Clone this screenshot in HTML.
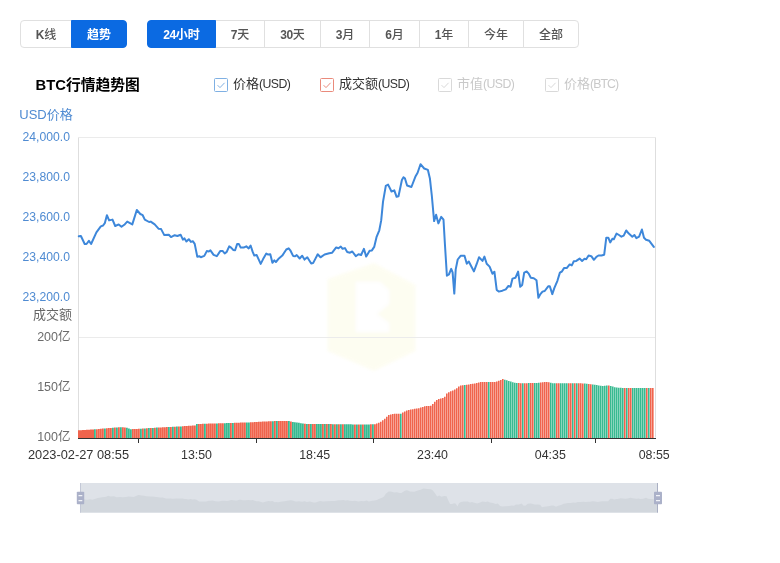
<!DOCTYPE html>
<html lang="zh-CN"><head><meta charset="utf-8"><title>BTC行情趋势图</title>
<style>
html,body{margin:0;padding:0;background:#fff}
body{width:780px;height:563px;position:relative;overflow:hidden;font-family:"Liberation Sans", "Noto Sans CJK SC", sans-serif;}
.tab{position:absolute;top:20px;height:28px;line-height:28.6px;text-align:center;font-size:12px;color:#555;font-weight:500;box-sizing:border-box;border:1px solid #e0e0e0;background:#fff;white-space:nowrap}
.tab b{font-weight:bold;letter-spacing:-0.4px}
.tab.first{border-radius:4px 0 0 4px}
.tab.last{border-radius:0 4px 4px 0}
.tab.on{background:#0b6ae2;color:#fff;border-color:#0b6ae2;font-weight:bold;z-index:2}
.title{position:absolute;left:35.5px;top:75.3px;font-size:14.8px;font-weight:bold;color:#000;line-height:20px;white-space:nowrap}
.cb{position:absolute;margin-left:-0.5px;top:77.5px;width:12px;height:12px;border:1px solid #888;border-radius:1.5px;background:#fff;line-height:0}
.lt{position:absolute;top:74.8px;font-size:13px;line-height:18px;white-space:nowrap}
.lt i{font-style:normal;letter-spacing:-0.6px;font-size:12.3px}
svg.chart{position:absolute;left:0;top:0}
.ax{font-family:"Liberation Sans", "Noto Sans CJK SC", sans-serif;font-size:12.5px}
</style></head><body>
<span class="tab first" style="left:20px;width:52px"><b>K</b>线</span><span class="tab on last" style="left:71px;width:56px">趋势</span>
<span class="tab on first" style="left:147px;width:69px"><b>24</b>小时</span><span class="tab" style="left:215px;width:50px"><b>7</b>天</span><span class="tab" style="left:264px;width:57px"><b>30</b>天</span><span class="tab" style="left:320px;width:50px"><b>3</b>月</span><span class="tab" style="left:369px;width:51px"><b>6</b>月</span><span class="tab" style="left:419px;width:50px"><b>1</b>年</span><span class="tab" style="left:468px;width:56px">今年</span><span class="tab last" style="left:523px;width:56px">全部</span>
<div class="title">BTC行情趋势图</div>
<span class="cb" style="left:214px;border-color:#7fb0e3"><svg width="12" height="12" viewBox="0 0 12 12"><path d="M2.6 6.2l2.4 2.4 4.6-4.8" fill="none" stroke="#7fb0e3" stroke-width="1"/></svg></span><span class="lt" style="left:233px;color:#333">价格<i>(USD)</i></span><span class="cb" style="left:320px;border-color:#ea8a7b"><svg width="12" height="12" viewBox="0 0 12 12"><path d="M2.6 6.2l2.4 2.4 4.6-4.8" fill="none" stroke="#ea8a7b" stroke-width="1"/></svg></span><span class="lt" style="left:339px;color:#333">成交额<i>(USD)</i></span><span class="cb" style="left:438px;border-color:#d9d9d9"><svg width="12" height="12" viewBox="0 0 12 12"><path d="M2.6 6.2l2.4 2.4 4.6-4.8" fill="none" stroke="#d9d9d9" stroke-width="1"/></svg></span><span class="lt" style="left:457px;color:#c9c9c9">市值<i>(USD)</i></span><span class="cb" style="left:545px;border-color:#d9d9d9"><svg width="12" height="12" viewBox="0 0 12 12"><path d="M2.6 6.2l2.4 2.4 4.6-4.8" fill="none" stroke="#d9d9d9" stroke-width="1"/></svg></span><span class="lt" style="left:564px;color:#c9c9c9">价格<i style="letter-spacing:-0.9px">(BTC)</i></span>
<svg class="chart" width="780" height="563" viewBox="0 0 780 563">
<defs><filter id="bl" x="-20%" y="-20%" width="140%" height="140%"><feGaussianBlur stdDeviation="1.6"/></filter></defs><g opacity="0.1" filter="url(#bl)"><path d="M374 263l41.500 22v66l-41.500 20-46.500-20v-72z" fill="#f1ee80"/><path d="M356 282h24l9 8v14l-12 10 12 9v9h-33z" fill="#fff"/></g>
<path d="M78.5 137.5h577M78.5 337.5h577" stroke="#ebebeb" fill="none"/>
<path d="M78.5 137.5v300M655.5 137.5v300" stroke="#dedede" fill="none"/>
<text x="19.3" y="118.8" fill="#4f8bd2" class="ax" style="font-size:13px">USD价格</text>
<text x="72" y="318.6" text-anchor="end" fill="#666" class="ax" style="font-size:13px">成交额</text>
<text x="70" y="140.5" text-anchor="end" fill="#4f8bd2" class="ax" style="font-size:12.2px">24,000.0</text><text x="70" y="180.5" text-anchor="end" fill="#4f8bd2" class="ax" style="font-size:12.2px">23,800.0</text><text x="70" y="220.5" text-anchor="end" fill="#4f8bd2" class="ax" style="font-size:12.2px">23,600.0</text><text x="70" y="260.5" text-anchor="end" fill="#4f8bd2" class="ax" style="font-size:12.2px">23,400.0</text><text x="70" y="300.5" text-anchor="end" fill="#4f8bd2" class="ax" style="font-size:12.2px">23,200.0</text><text x="70.5" y="341.3" text-anchor="end" fill="#6b6b6b" class="ax">200亿</text><text x="70.5" y="391.3" text-anchor="end" fill="#6b6b6b" class="ax">150亿</text><text x="70.5" y="441.3" text-anchor="end" fill="#6b6b6b" class="ax">100亿</text><text x="78.5" y="458.5" text-anchor="middle" fill="#333" class="ax" style="font-size:12.8px">2023-02-27 08:55</text><text x="196.5" y="458.5" text-anchor="middle" fill="#333" class="ax" style="font-size:12.4px">13:50</text><text x="314.7" y="458.5" text-anchor="middle" fill="#333" class="ax" style="font-size:12.4px">18:45</text><text x="432.5" y="458.5" text-anchor="middle" fill="#333" class="ax" style="font-size:12.4px">23:40</text><text x="550.3" y="458.5" text-anchor="middle" fill="#333" class="ax" style="font-size:12.4px">04:35</text><text x="654.2" y="458.5" text-anchor="middle" fill="#333" class="ax" style="font-size:12.4px">08:55</text>
<path d="M78.00 438V430.3h2.0V438zM80.00 438V430.2h2.0V438zM82.00 438V430.0h2.0V438zM84.00 438V429.9h2.0V438zM86.00 438V429.8h2.0V438zM88.00 438V429.7h2.0V438zM90.00 438V429.6h2.0V438zM92.00 438V429.4h2.0V438zM96.00 438V429.2h1.8V438zM98.00 438V429.0h1.8V438zM100.00 438V428.8h1.8V438zM102.00 438V428.6h1.8V438zM106.00 438V428.3h1.8V438zM108.00 438V428.1h1.8V438zM110.00 438V428.0h1.8V438zM114.00 438V427.6h1.8V438zM118.00 438V427.3h1.8V438zM122.00 438V427.3h1.8V438zM124.00 438V427.4h1.8V438zM132.00 438V429.1h1.8V438zM134.00 438V429.0h1.8V438zM136.00 438V428.9h1.8V438zM138.00 438V428.8h1.8V438zM142.00 438V428.5h1.8V438zM146.00 438V428.3h1.8V438zM150.00 438V428.0h1.8V438zM154.00 438V427.8h1.8V438zM158.00 438V427.5h1.8V438zM160.00 438V427.4h1.8V438zM162.00 438V427.3h1.8V438zM164.00 438V427.2h1.8V438zM166.00 438V427.1h1.8V438zM170.00 438V426.9h1.8V438zM174.00 438V426.7h1.8V438zM178.00 438V426.5h1.8V438zM182.00 438V426.2h1.8V438zM184.00 438V426.1h1.8V438zM186.00 438V426.0h1.8V438zM188.00 438V425.8h1.8V438zM190.00 438V425.7h1.8V438zM192.00 438V425.5h1.8V438zM194.00 438V425.4h1.8V438zM198.00 438V423.9h1.8V438zM200.00 438V423.9h1.8V438zM202.00 438V423.8h1.8V438zM206.00 438V423.7h1.8V438zM208.00 438V423.6h1.8V438zM210.00 438V423.6h1.8V438zM212.00 438V423.5h1.8V438zM214.00 438V423.5h1.8V438zM218.00 438V423.3h1.8V438zM220.00 438V423.3h1.8V438zM222.00 438V423.2h1.8V438zM230.00 438V422.9h1.8V438zM234.00 438V422.8h1.8V438zM236.00 438V422.8h1.8V438zM238.00 438V422.7h1.8V438zM240.00 438V422.6h1.8V438zM242.00 438V422.6h1.8V438zM244.00 438V422.5h1.8V438zM250.00 438V422.3h1.8V438zM252.00 438V422.2h1.8V438zM254.00 438V422.1h1.8V438zM256.00 438V421.9h1.8V438zM258.00 438V421.8h1.8V438zM260.00 438V421.7h1.8V438zM262.00 438V421.6h1.8V438zM264.00 438V421.5h1.8V438zM266.00 438V421.4h1.8V438zM268.00 438V421.3h1.8V438zM270.00 438V421.2h1.8V438zM274.00 438V421.1h1.8V438zM278.00 438V421.1h1.8V438zM280.00 438V421.1h1.8V438zM282.00 438V421.1h1.8V438zM284.00 438V421.0h1.8V438zM286.00 438V421.0h1.8V438zM290.00 438V421.5h1.8V438zM304.00 438V423.8h1.8V438zM308.00 438V424.0h1.8V438zM312.00 438V424.0h1.8V438zM314.00 438V424.1h1.8V438zM322.00 438V424.1h1.8V438zM326.00 438V424.1h1.8V438zM330.00 438V424.1h1.8V438zM334.00 438V424.2h1.8V438zM338.00 438V424.2h1.8V438zM342.00 438V424.2h1.8V438zM354.00 438V424.4h1.8V438zM358.00 438V424.4h1.8V438zM362.00 438V424.5h1.8V438zM370.00 438V424.3h1.8V438zM374.00 438V424.2h1.8V438zM376.00 438V423.4h1.6V438zM378.00 438V422.7h1.6V438zM380.00 438V421.8h1.6V438zM382.00 438V420.3h1.6V438zM384.00 438V418.7h1.6V438zM386.00 438V416.7h1.6V438zM388.00 438V415.1h1.6V438zM390.00 438V414.6h1.6V438zM392.00 438V414.1h1.6V438zM394.00 438V413.8h1.6V438zM396.00 438V413.8h1.6V438zM398.00 438V413.8h1.6V438zM402.00 438V412.6h1.6V438zM404.00 438V411.4h1.6V438zM406.00 438V410.5h1.6V438zM408.00 438V410.1h1.6V438zM410.00 438V409.6h1.6V438zM412.00 438V409.2h1.6V438zM414.00 438V408.8h1.6V438zM416.00 438V408.5h1.6V438zM418.00 438V408.2h1.6V438zM420.00 438V407.5h1.6V438zM422.00 438V406.9h1.6V438zM424.00 438V406.2h1.6V438zM426.00 438V406.0h1.6V438zM428.00 438V405.9h1.6V438zM430.00 438V405.7h1.6V438zM432.00 438V404.1h1.6V438zM434.00 438V401.7h1.6V438zM436.00 438V400.1h1.6V438zM438.00 438V399.1h1.6V438zM440.00 438V398.5h1.6V438zM442.00 438V398.1h1.6V438zM444.00 438V396.7h1.6V438zM446.00 438V393.4h1.6V438zM448.00 438V392.2h1.6V438zM450.00 438V391.3h1.6V438zM452.00 438V390.4h1.6V438zM454.00 438V389.6h1.6V438zM456.00 438V388.2h1.6V438zM458.00 438V386.4h1.6V438zM460.00 438V385.6h1.6V438zM462.00 438V385.3h1.6V438zM466.00 438V384.8h1.6V438zM468.00 438V384.5h1.6V438zM470.00 438V384.1h1.6V438zM472.00 438V383.8h1.6V438zM474.00 438V383.4h1.6V438zM476.00 438V383.0h1.6V438zM478.00 438V382.5h1.6V438zM480.00 438V382.1h1.6V438zM482.00 438V382.0h1.6V438zM484.00 438V382.0h1.6V438zM486.00 438V381.9h1.6V438zM490.00 438V381.9h1.6V438zM492.00 438V381.9h1.6V438zM494.00 438V381.9h1.6V438zM496.00 438V381.6h1.6V438zM498.00 438V380.7h1.6V438zM500.00 438V379.9h1.6V438zM502.00 438V379.0h1.6V438zM518.00 438V383.1h1.6V438zM520.00 438V383.3h1.6V438zM524.00 438V383.2h1.6V438zM526.00 438V383.2h1.6V438zM530.00 438V383.1h1.6V438zM532.00 438V383.1h1.6V438zM540.00 438V382.5h1.6V438zM542.00 438V382.3h1.6V438zM544.00 438V382.1h1.6V438zM546.00 438V381.9h1.6V438zM548.00 438V382.2h1.6V438zM556.00 438V383.3h1.6V438zM558.00 438V383.3h1.6V438zM568.00 438V383.3h1.6V438zM570.00 438V383.3h1.6V438zM574.00 438V383.3h1.6V438zM578.00 438V383.3h1.6V438zM580.00 438V383.3h1.6V438zM582.00 438V383.4h1.6V438zM588.00 438V384.0h1.6V438zM590.00 438V384.2h1.6V438zM608.00 438V385.4h1.6V438zM624.00 438V388.0h1.6V438zM628.00 438V388.0h1.6V438zM630.00 438V388.0h1.6V438zM646.00 438V388.0h1.6V438zM650.00 438V388.0h1.6V438zM652.00 438V388.0h1.6V438z" fill="#f0644d"/>
<path d="M94.00 438V429.3h1.8V438zM104.00 438V428.5h1.8V438zM112.00 438V427.8h1.8V438zM116.00 438V427.5h1.8V438zM120.00 438V427.2h1.8V438zM126.00 438V427.7h1.8V438zM128.00 438V428.6h1.8V438zM130.00 438V429.2h1.8V438zM140.00 438V428.7h1.8V438zM144.00 438V428.4h1.8V438zM148.00 438V428.1h1.8V438zM152.00 438V427.9h1.8V438zM156.00 438V427.6h1.8V438zM168.00 438V427.0h1.8V438zM172.00 438V426.8h1.8V438zM176.00 438V426.6h1.8V438zM180.00 438V426.4h1.8V438zM196.00 438V424.0h1.8V438zM204.00 438V423.8h1.8V438zM216.00 438V423.4h1.8V438zM224.00 438V423.2h1.8V438zM226.00 438V423.1h1.8V438zM228.00 438V423.0h1.8V438zM232.00 438V422.9h1.8V438zM246.00 438V422.4h1.8V438zM248.00 438V422.4h1.8V438zM272.00 438V421.2h1.8V438zM276.00 438V421.1h1.8V438zM288.00 438V421.1h1.8V438zM292.00 438V421.9h1.8V438zM294.00 438V422.2h1.8V438zM296.00 438V422.5h1.8V438zM298.00 438V422.8h1.8V438zM300.00 438V423.2h1.8V438zM302.00 438V423.5h1.8V438zM306.00 438V424.0h1.8V438zM310.00 438V424.0h1.8V438zM316.00 438V424.1h1.8V438zM318.00 438V424.1h1.8V438zM320.00 438V424.1h1.8V438zM324.00 438V424.1h1.8V438zM328.00 438V424.1h1.8V438zM332.00 438V424.2h1.8V438zM336.00 438V424.2h1.8V438zM340.00 438V424.2h1.8V438zM344.00 438V424.3h1.8V438zM346.00 438V424.3h1.8V438zM348.00 438V424.3h1.8V438zM350.00 438V424.3h1.8V438zM352.00 438V424.4h1.8V438zM356.00 438V424.4h1.8V438zM360.00 438V424.4h1.8V438zM364.00 438V424.5h1.8V438zM366.00 438V424.5h1.8V438zM368.00 438V424.4h1.8V438zM372.00 438V424.3h1.8V438zM400.00 438V413.8h1.6V438zM464.00 438V385.1h1.6V438zM488.00 438V381.9h1.6V438zM504.00 438V379.7h1.6V438zM506.00 438V380.3h1.6V438zM508.00 438V381.0h1.6V438zM510.00 438V381.6h1.6V438zM512.00 438V382.2h1.6V438zM514.00 438V382.7h1.6V438zM516.00 438V382.9h1.6V438zM522.00 438V383.3h1.6V438zM528.00 438V383.1h1.6V438zM534.00 438V383.0h1.6V438zM536.00 438V382.9h1.6V438zM538.00 438V382.7h1.6V438zM550.00 438V382.7h1.6V438zM552.00 438V383.2h1.6V438zM554.00 438V383.3h1.6V438zM560.00 438V383.3h1.6V438zM562.00 438V383.3h1.6V438zM564.00 438V383.3h1.6V438zM566.00 438V383.3h1.6V438zM572.00 438V383.3h1.6V438zM576.00 438V383.3h1.6V438zM584.00 438V383.6h1.6V438zM586.00 438V383.8h1.6V438zM592.00 438V384.5h1.6V438zM594.00 438V384.8h1.6V438zM596.00 438V385.1h1.6V438zM598.00 438V385.4h1.6V438zM600.00 438V385.7h1.6V438zM602.00 438V386.0h1.6V438zM604.00 438V385.8h1.6V438zM606.00 438V385.6h1.6V438zM610.00 438V386.0h1.6V438zM612.00 438V386.6h1.6V438zM614.00 438V387.2h1.6V438zM616.00 438V387.5h1.6V438zM618.00 438V387.7h1.6V438zM620.00 438V387.8h1.6V438zM622.00 438V388.0h1.6V438zM626.00 438V388.0h1.6V438zM632.00 438V388.0h1.6V438zM634.00 438V388.0h1.6V438zM636.00 438V388.0h1.6V438zM638.00 438V388.0h1.6V438zM640.00 438V388.0h1.6V438zM642.00 438V388.0h1.6V438zM644.00 438V388.0h1.6V438zM648.00 438V388.0h1.6V438z" fill="#38ba91"/>
<path d="M78 438.5h578" stroke="#333" fill="none"/>
<path d="M138.5 438v5M256.5 438v5M373.5 438v5M491.5 438v5M595.5 438v5" stroke="#333" fill="none"/>
<path d="M78.8 236.3L80.9 236.0L84.7 244.0L86.5 244.0L88.9 240.8L91.1 244.0L96.4 232.3L100.8 226.4L103.1 225.5L104.8 223.2L106.9 215.2L109.1 220.4L112.5 219.6L115.2 226.0L118.7 224.4L121.5 226.8L124.3 224.8L127.2 221.6L132.3 224.4L136.8 210.0L140.3 214.0L142.7 215.2L144.8 219.6L149.1 222.0L150.7 221.6L154.7 224.4L158.7 228.8L161.1 229.1L164.3 235.1L168.8 234.7L171.0 237.1L174.7 235.2L177.4 236.0L180.6 234.7L182.9 239.6L184.5 238.4L186.4 241.5L188.8 239.2L190.9 241.9L192.8 241.2L194.7 243.9L197.3 256.7L199.2 256.2L200.8 257.2L204.3 255.9L206.8 251.1L208.8 251.5L210.4 250.3L213.6 254.8L216.8 256.2L220.2 251.1L222.8 251.1L224.7 253.5L226.7 251.9L229.2 246.3L231.1 247.6L233.2 249.9L235.1 250.3L237.2 243.9L238.8 243.9L240.7 247.6L243.6 247.6L246.3 246.3L248.7 248.4L250.6 245.5L252.7 251.9L254.3 255.6L256.7 255.1L260.7 263.9L263.1 259.1L266.3 253.5L268.2 254.6L270.3 254.3L272.4 262.8L274.3 260.4L275.9 262.0L278.3 259.1L282.3 255.6L286.3 249.5L288.7 248.3L290.3 250.3L293.1 255.9L295.1 256.2L296.7 255.1L299.7 258.5L302.2 255.7L304.5 259.6L307.3 257.3L311.2 263.5L313.1 263.1L317.7 254.3L320.5 257.3L324.6 254.5L329.2 253.2L332.2 252.7L336.2 247.4L338.5 248.3L340.8 246.5L342.6 248.8L344.9 248.1L347.2 252.0L350.0 252.7L352.3 251.5L355.8 256.2L358.5 254.3L361.1 255.0L363.9 248.8L366.2 256.6L369.6 250.8L371.9 250.4L374.2 246.9L376.5 237.2L379.3 230.3L381.2 220.4L383.0 201.9L385.8 185.8L388.1 184.6L391.5 191.5L394.3 190.4L396.6 196.8L398.5 196.2L401.9 180.0L403.5 177.2L404.9 178.2L407.1 185.5L411.4 187.0L415.6 176.2L417.6 172.7L420.5 164.2L424.2 168.5L427.9 169.9L429.9 178.4L431.8 195.5L434.1 221.1L436.1 214.8L438.4 223.4L441.2 216.8L443.5 219.7L444.9 243.8L446.9 275.7L448.9 274.5L451.2 268.9L452.6 272.3L454.3 293.6L455.7 269.4L457.7 259.5L460.6 255.8L464.5 255.8L466.8 263.7L468.8 261.5L471.1 266.0L473.9 271.4L476.8 263.7L479.0 257.2L482.5 260.9L484.4 256.6L486.7 263.7L489.6 266.6L492.4 273.7L494.4 271.7L496.7 289.9L498.7 291.6L502.4 290.7L505.8 289.3L508.4 285.9L510.5 286.7L512.5 278.6L515.4 277.8L518.1 271.6L520.2 286.8L522.2 284.9L524.2 272.6L526.7 271.5L528.7 273.6L530.8 277.7L533.8 278.3L536.5 280.2L538.4 297.8L540.4 294.1L542.5 291.6L544.7 291.0L548.2 286.3L549.8 286.3L552.3 294.1L554.4 287.9L557.4 280.8L559.9 272.6L561.9 271.5L564.0 268.1L566.7 268.1L569.7 264.4L571.8 265.4L573.8 261.3L576.3 260.9L579.6 258.6L582.1 260.9L584.5 258.8L586.2 259.2L588.6 255.5L591.3 256.2L593.9 259.8L596.4 256.8L598.5 255.5L601.5 255.5L604.2 254.7L606.3 237.7L608.3 237.7L610.2 242.4L612.4 238.7L613.8 239.3L616.5 233.6L619.0 235.0L621.4 236.7L623.7 235.6L626.2 230.5L628.8 233.6L632.3 236.7L634.4 235.0L636.4 238.1L639.1 236.7L641.9 229.5L644.0 237.7L646.0 239.7L649.3 240.8L653.8 246.9" fill="none" stroke="#3d87da" stroke-width="2" stroke-linejoin="round" stroke-linecap="round"/>
<rect x="80" y="483" width="578" height="29.6" fill="#dee2e8"/>
<path d="M80 512.6L80.0 498.6L82.1 498.6L85.9 499.7L87.7 499.7L90.2 499.3L92.4 499.7L97.7 498.1L102.1 497.2L104.4 497.1L106.1 496.8L108.2 495.7L110.5 496.4L113.9 496.3L116.6 497.2L120.1 497.0L122.9 497.3L125.7 497.0L128.7 496.6L133.8 497.0L138.3 494.9L141.8 495.5L144.2 495.7L146.3 496.3L150.7 496.6L152.3 496.6L156.3 497.0L160.3 497.6L162.7 497.6L165.9 498.5L170.5 498.4L172.7 498.7L176.4 498.5L179.1 498.6L182.3 498.4L184.6 499.1L186.3 498.9L188.2 499.4L190.6 499.0L192.7 499.4L194.6 499.3L196.5 499.7L199.1 501.5L201.0 501.4L202.6 501.5L206.2 501.4L208.7 500.7L210.7 500.8L212.3 500.6L215.5 501.2L218.7 501.4L222.1 500.7L224.8 500.7L226.7 501.0L228.7 500.8L231.2 500.0L233.1 500.2L235.2 500.5L237.1 500.6L239.2 499.7L240.8 499.7L242.7 500.2L245.7 500.2L248.4 500.0L250.8 500.3L252.7 499.9L254.8 500.8L256.4 501.3L258.8 501.3L262.8 502.5L265.3 501.8L268.5 501.0L270.4 501.2L272.5 501.1L274.6 502.3L276.5 502.0L278.1 502.2L280.5 501.8L284.6 501.3L288.6 500.5L291.0 500.3L292.6 500.6L295.4 501.4L297.4 501.4L299.0 501.3L302.1 501.7L304.6 501.3L306.9 501.9L309.7 501.6L313.6 502.4L315.5 502.4L320.1 501.1L323.0 501.6L327.1 501.2L331.7 501.0L334.7 500.9L338.7 500.2L341.1 500.3L343.4 500.1L345.2 500.4L347.5 500.3L349.8 500.8L352.6 500.9L354.9 500.8L358.4 501.4L361.2 501.1L363.8 501.2L366.6 500.4L368.9 501.5L372.3 500.7L374.6 500.6L376.9 500.1L379.3 498.7L382.1 497.8L384.0 496.4L385.8 493.8L388.6 491.6L390.9 491.4L394.3 492.4L397.1 492.2L399.5 493.1L401.4 493.0L404.8 490.7L406.4 490.3L407.8 490.5L410.0 491.5L414.3 491.7L418.6 490.2L420.6 489.7L423.5 488.5L427.2 489.1L430.9 489.3L432.9 490.5L434.8 492.9L437.2 496.5L439.2 495.6L441.5 496.8L444.3 495.9L446.6 496.3L448.0 499.7L450.0 504.1L452.0 504.0L454.3 503.2L455.8 503.7L457.5 506.6L458.9 503.3L460.9 501.9L463.8 501.4L467.7 501.4L470.0 502.5L472.0 502.1L474.3 502.8L477.2 503.5L480.1 502.5L482.3 501.5L485.8 502.1L487.7 501.5L490.0 502.5L492.9 502.9L495.8 503.9L497.8 503.6L500.1 506.1L502.1 506.4L505.8 506.2L509.2 506.0L511.8 505.6L514.0 505.7L516.0 504.5L518.9 504.4L521.6 503.6L523.7 505.7L525.7 505.4L527.7 503.7L530.2 503.6L532.2 503.8L534.4 504.4L537.4 504.5L540.1 504.8L542.0 507.2L544.0 506.7L546.1 506.4L548.3 506.3L551.8 505.6L553.5 505.6L556.0 506.7L558.1 505.8L561.1 504.9L563.6 503.7L565.6 503.6L567.7 503.1L570.4 503.1L573.5 502.6L575.6 502.7L577.6 502.1L580.1 502.1L583.4 501.7L585.9 502.1L588.3 501.8L590.0 501.8L592.5 501.3L595.2 501.4L597.8 501.9L600.3 501.5L602.4 501.3L605.4 501.3L608.1 501.2L610.3 498.8L612.3 498.8L614.2 499.5L616.4 499.0L617.8 499.0L620.5 498.2L623.0 498.4L625.4 498.7L627.7 498.5L630.3 497.8L632.9 498.2L636.4 498.7L638.5 498.4L640.5 498.9L643.2 498.7L646.0 497.7L648.1 498.8L650.2 499.1L653.5 499.3L658.0 500.1L658 500.4L658 512.6z" fill="#d2d7dd"/>
<path d="M80.5 483v29.6" stroke="#c3c8d6" fill="none"/><path d="M657.5 483v29.6" stroke="#a9afc3" fill="none"/>
<g fill="#abb1c9"><rect x="76.800" y="491.800" width="7.400" height="12.400" rx="0.800"/><rect x="654" y="491.800" width="8" height="12.400" rx="0.800"/></g>
<path d="M78.500 495.600h3.800M78.500 500.600h3.800M656 495.600h4M656 500.600h4" stroke="#f1f3f8" stroke-width="1.300" fill="none"/>
</svg>
</body></html>
